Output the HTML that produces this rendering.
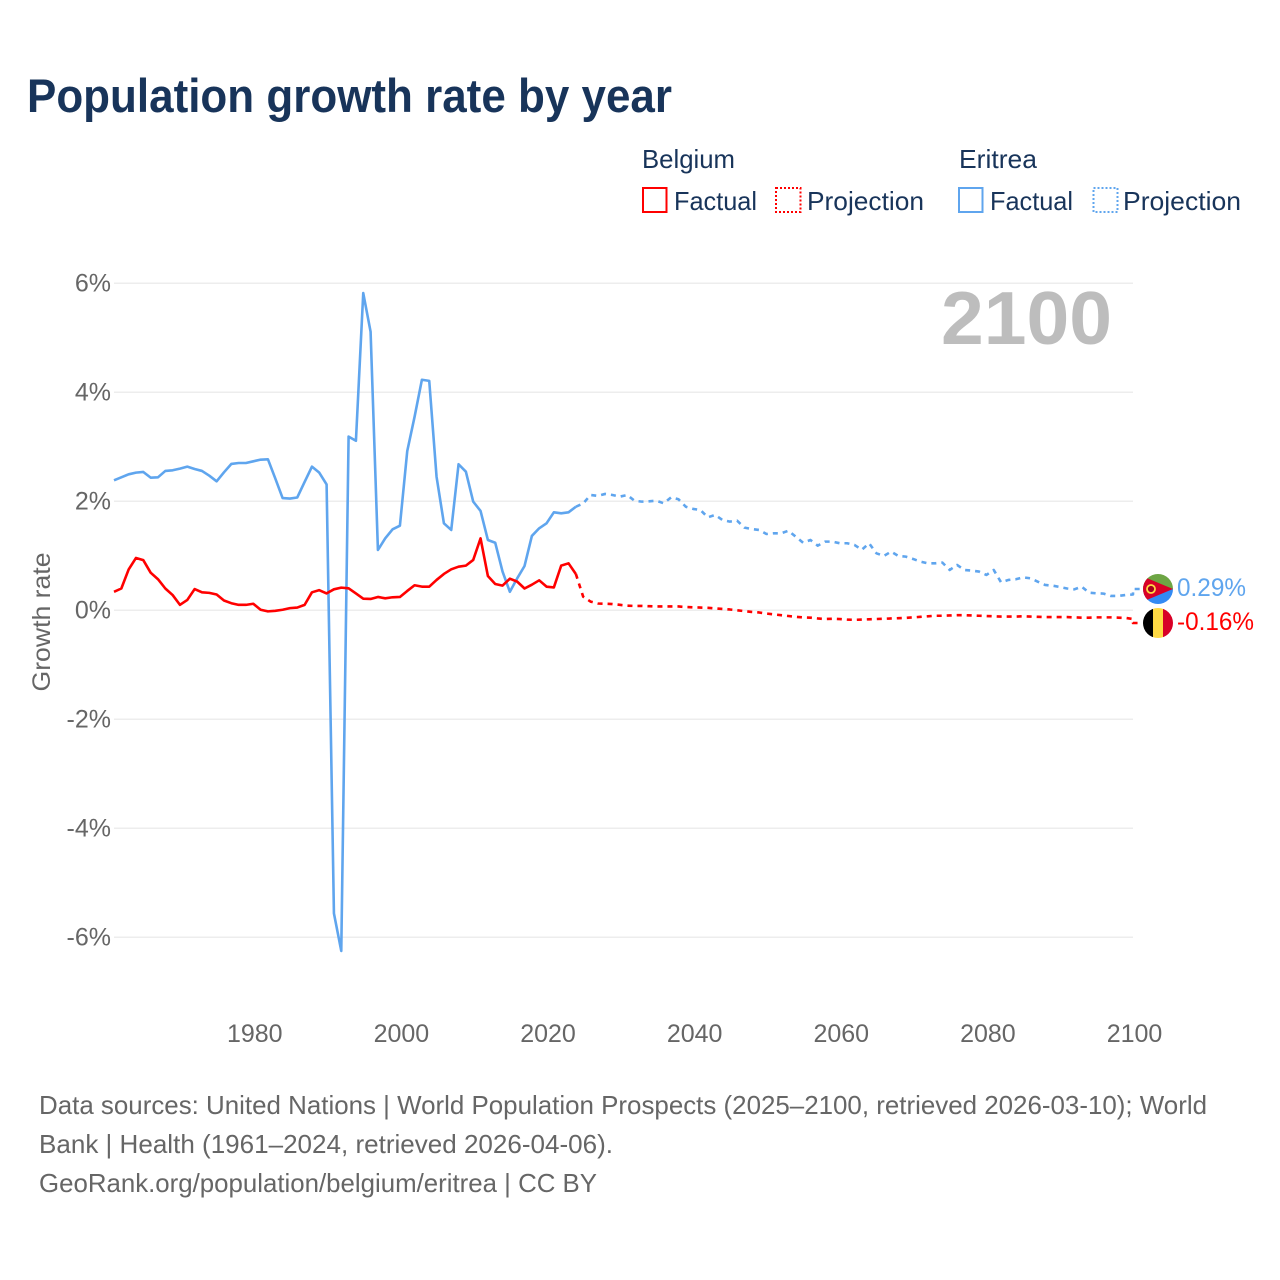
<!DOCTYPE html>
<html lang="en">
<head>
<meta charset="utf-8">
<title>Population growth rate by year</title>
<style>
html,body{margin:0;padding:0;background:#fff;}
svg{display:block;font-family:"Liberation Sans",sans-serif;}
</style>
</head>
<body>
<svg id="chart" xmlns="http://www.w3.org/2000/svg" width="1280" height="1280" viewBox="0 0 1280 1280">
  <rect x="0" y="0" width="1280" height="1280" fill="#fff"/>
  <text x="27" y="112" font-size="47" font-weight="700" fill="#18345a" textLength="645" lengthAdjust="spacingAndGlyphs">Population growth rate by year</text>

  <g font-size="26" fill="#18345a">
    <text x="642" y="168" textLength="93" lengthAdjust="spacingAndGlyphs">Belgium</text>
    <text x="959" y="168" textLength="78" lengthAdjust="spacingAndGlyphs">Eritrea</text>
    <g>
      <rect x="643" y="188" width="23.500" height="24" fill="none" stroke="#ff0000" stroke-width="2"/>
      <text x="674" y="210" textLength="83" lengthAdjust="spacingAndGlyphs">Factual</text>
    </g>
    <g>
      <rect x="776" y="188" width="24.500" height="24" fill="none" stroke="#ff0000" stroke-width="2" stroke-dasharray="2 2"/>
      <text x="807" y="210" textLength="117" lengthAdjust="spacingAndGlyphs">Projection</text>
    </g>
    <g>
      <rect x="959" y="188" width="23.500" height="24" fill="none" stroke="#5fa5ee" stroke-width="2"/>
      <text x="990" y="210" textLength="83" lengthAdjust="spacingAndGlyphs">Factual</text>
    </g>
    <g>
      <rect x="1093.500" y="188" width="24" height="24" fill="none" stroke="#5fa5ee" stroke-width="2" stroke-dasharray="2 2"/>
      <text x="1123" y="210" textLength="118" lengthAdjust="spacingAndGlyphs">Projection</text>
    </g>
  </g>

  <g id="grid"></g>
  <g id="yticks" font-size="25" fill="#666" text-anchor="end"></g>
  <g id="xticks" font-size="25" fill="#666" text-anchor="middle"></g>

  <text transform="translate(50,622) rotate(-90)" font-size="25" fill="#666" text-anchor="middle" textLength="139" lengthAdjust="spacingAndGlyphs">Growth rate</text>
  <text x="941" y="344" font-size="75" font-weight="700" fill="#bdbdbd" textLength="171" lengthAdjust="spacingAndGlyphs">2100</text>

  <g id="series" fill="none" stroke-width="2.600" stroke-linejoin="round"></g>

  <defs>
    <clipPath id="flag-clip-er"><circle cx="1158" cy="589" r="15"/></clipPath>
    <clipPath id="flag-clip-be"><circle cx="1158" cy="623" r="15"/></clipPath>
  </defs>
  <g clip-path="url(#flag-clip-er)">
    <rect x="1143" y="574" width="30" height="15" fill="#6da544"/>
    <rect x="1143" y="589" width="30" height="15" fill="#338af3"/>
    <polygon points="1143,576.500 1173,589 1143,601.500" fill="#d80027"/>
    <circle cx="1151" cy="589" r="4" fill="#a2001d" stroke="#ffda44" stroke-width="1.800"/>
  </g>
  <g clip-path="url(#flag-clip-be)">
    <rect x="1143" y="608" width="10" height="30" fill="#000"/>
    <rect x="1153" y="608" width="10" height="30" fill="#ffda44"/>
    <rect x="1163" y="608" width="10" height="30" fill="#d80027"/>
  </g>
  <text x="1177" y="596" font-size="25" fill="#5fa5ee" textLength="69" lengthAdjust="spacingAndGlyphs">0.29%</text>
  <text x="1177" y="630" font-size="25" fill="#ff0000" textLength="77" lengthAdjust="spacingAndGlyphs">-0.16%</text>

  <g font-size="26" fill="#666">
    <text x="39" y="1114" textLength="1168" lengthAdjust="spacingAndGlyphs">Data sources: United Nations | World Population Prospects (2025–2100, retrieved 2026-03-10); World</text>
    <text x="39" y="1153" textLength="574" lengthAdjust="spacingAndGlyphs">Bank | Health (1961–2024, retrieved 2026-04-06).</text>
    <text x="39" y="1192" textLength="558" lengthAdjust="spacingAndGlyphs">GeoRank.org/population/belgium/eritrea | CC BY</text>
  </g>
</svg>
<script>
const firstFactualYear = 1961;
const firstProjectionYear = 2025;
const xTickYears = [1980, 2000, 2020, 2040, 2060, 2080, 2100];
const yTickValues = [6, 4, 2, 0, -2, -4, -6];
const yTickLabels = ["6%", "4%", "2%", "0%", "-2%", "-4%", "-6%"];

const belgiumFactual = [
  0.34, 0.40, 0.75, 0.96, 0.92, 0.69, 0.57, 0.40, 0.28, 0.10,
  0.19, 0.39, 0.33, 0.32, 0.29, 0.18, 0.13, 0.10, 0.10, 0.12,
  0.01, -0.02, -0.01, 0.01, 0.04, 0.05, 0.10, 0.33, 0.37, 0.31,
  0.385, 0.416, 0.404, 0.31, 0.214, 0.208, 0.245, 0.22, 0.239, 0.245,
  0.355, 0.459, 0.434, 0.434, 0.557, 0.667, 0.752, 0.80, 0.82, 0.924,
  1.32, 0.63, 0.483, 0.453, 0.58, 0.526, 0.40, 0.47, 0.55, 0.434,
  0.42, 0.82, 0.862, 0.667
];
const belgiumProjection = [
  0.25, 0.16, 0.125, 0.12, 0.115, 0.10, 0.085, 0.08, 0.08, 0.075,
  0.07, 0.07, 0.07, 0.07, 0.06, 0.055, 0.05, 0.045, 0.035, 0.025,
  0.015, 0, -0.015, -0.03, -0.04, -0.06, -0.075, -0.09, -0.105, -0.12,
  -0.13, -0.135, -0.15, -0.16, -0.155, -0.16, -0.17, -0.175, -0.17, -0.165,
  -0.16, -0.155, -0.15, -0.145, -0.14, -0.13, -0.12, -0.11, -0.10, -0.10,
  -0.095, -0.09, -0.09, -0.095, -0.10, -0.105, -0.11, -0.115, -0.115, -0.115,
  -0.11, -0.115, -0.12, -0.125, -0.125, -0.125, -0.125, -0.13, -0.135, -0.135,
  -0.13, -0.13, -0.13, -0.135, -0.14, -0.16
];
const eritreaFactual = [
  2.385, 2.44, 2.495, 2.526, 2.538, 2.434, 2.44, 2.557, 2.569, 2.60,
  2.636, 2.593, 2.557, 2.47, 2.367, 2.532, 2.685, 2.703, 2.703, 2.734,
  2.764, 2.77, 2.42, 2.06, 2.05, 2.07, 2.355, 2.636, 2.526, 2.31,
  -5.56, -6.25, 3.187, 3.11, 5.82, 5.11, 1.107, 1.32, 1.486, 1.553,
  2.92, 3.55, 4.23, 4.21, 2.45, 1.596, 1.474, 2.68, 2.544, 1.994,
  1.823, 1.29, 1.24, 0.71, 0.34, 0.587, 0.813, 1.364, 1.505, 1.596,
  1.798, 1.78, 1.798, 1.90
];
const eritreaProjection = [
  1.96, 2.116, 2.10, 2.135, 2.116, 2.086, 2.116, 2.01, 1.994, 2.0,
  2.01, 1.963, 2.073, 2.037, 1.90, 1.86, 1.84, 1.706, 1.75, 1.657,
  1.627, 1.645, 1.517, 1.492, 1.474, 1.40, 1.413, 1.413, 1.46, 1.35,
  1.24, 1.29, 1.186, 1.26, 1.26, 1.23, 1.23, 1.2, 1.11, 1.23,
  1.046, 0.997, 1.076, 0.997, 0.985, 0.942, 0.893, 0.862, 0.862, 0.875,
  0.74, 0.832, 0.74, 0.728, 0.71, 0.648, 0.74, 0.514, 0.557, 0.569,
  0.605, 0.587, 0.526, 0.465, 0.453, 0.428, 0.40, 0.385, 0.434, 0.324,
  0.312, 0.306, 0.263, 0.263, 0.281, 0.29
];

const SVG_NS = "http://www.w3.org/2000/svg";
const BLUE = "#5fa5ee";
const RED = "#ff0000";
const ERITREA_FLAG_Y = 589;
const BELGIUM_FLAG_Y = 623;

function xScale(year) {
  return 114 + (year - 1961) * 7.331;
}
function yScale(value) {
  return 610.3 - value * 54.5;
}
function linePath(startYear, values) {
  return values.map(function (v, i) {
    return (i === 0 ? "M" : "L") + xScale(startYear + i).toFixed(2) + " " + yScale(v).toFixed(2);
  }).join(" ");
}

const gridGroup = document.getElementById("grid");
const yTickGroup = document.getElementById("yticks");
yTickValues.forEach(function (v, i) {
  const line = document.createElementNS(SVG_NS, "line");
  
  
  line.setAttribute("x1", xScale(1961));
  line.setAttribute("x2", xScale(2100));
  line.setAttribute("y1", yScale(v));
  line.setAttribute("y2", yScale(v));
  line.setAttribute("stroke", "#ededed");
  line.setAttribute("stroke-width", "1.5");
  gridGroup.appendChild(line);

  const label = document.createElementNS(SVG_NS, "text");
  
  
  label.setAttribute("x", 111);
  label.setAttribute("y", yScale(v) + 8);
  label.textContent = yTickLabels[i];
  yTickGroup.appendChild(label);
});

const xTickGroup = document.getElementById("xticks");
xTickYears.forEach(function (year) {
  const label = document.createElementNS(SVG_NS, "text");
  
  
  label.setAttribute("x", xScale(year) + 1.5);
  label.setAttribute("y", 1042);
  label.textContent = String(year);
  xTickGroup.appendChild(label);
});

const seriesGroup = document.getElementById("series");
function addLine(name, d, color, dash) {
  const path = document.createElementNS(SVG_NS, "path");
  
  
  path.setAttribute("d", d);
  path.setAttribute("stroke", color);
  if (dash) {
    path.setAttribute("stroke-dasharray", dash);
  }
  seriesGroup.appendChild(path);
}
function projectionPath(factual, projection, flagY) {
  const joined = [factual[factual.length - 1]].concat(projection);
  const lastYear = firstProjectionYear + projection.length - 1;
  return linePath(firstProjectionYear - 1, joined) +
    " L" + xScale(lastYear).toFixed(2) + " " + flagY +
    " L" + (xScale(lastYear) + 8).toFixed(2) + " " + flagY;
}

addLine('eritrea-projection-line', projectionPath(eritreaFactual, eritreaProjection, ERITREA_FLAG_Y), BLUE, "5 5");
addLine('eritrea-factual-line', linePath(firstFactualYear, eritreaFactual), BLUE, null);
addLine('belgium-projection-line', projectionPath(belgiumFactual, belgiumProjection, BELGIUM_FLAG_Y), RED, "5 5");
addLine('belgium-factual-line', linePath(firstFactualYear, belgiumFactual), RED, null);
</script>
</body>
</html>
